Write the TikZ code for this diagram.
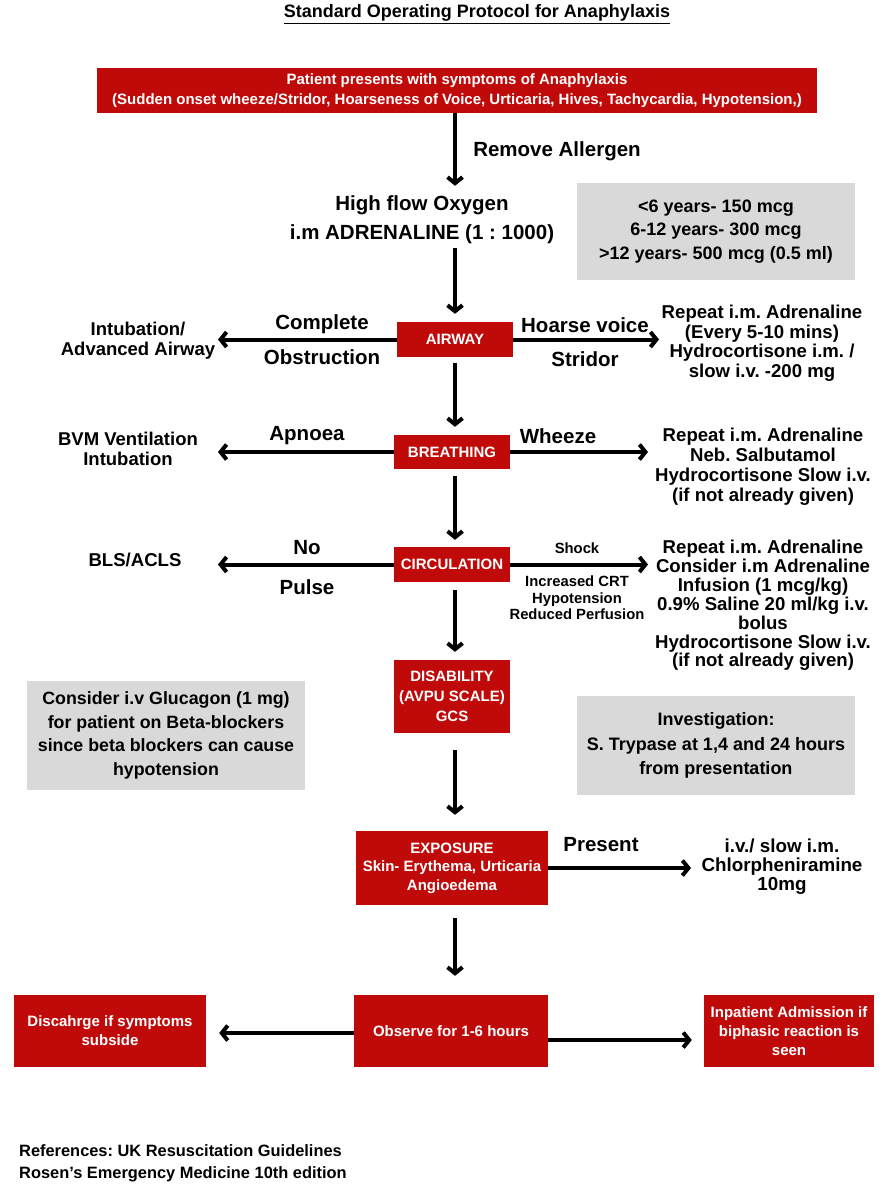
\documentclass[tikz,border=0pt]{standalone}
\usepackage{fontspec}
\setmainfont{Liberation Sans}
\usetikzlibrary{arrows.meta}
\definecolor{boxred}{RGB}{192,10,10}
\definecolor{boxgrey}{RGB}{217,217,217}
\newcommand{\fsz}[2]{\fontsize{#1}{#2}\selectfont\bfseries}
\frenchspacing
\begin{document}
\begin{tikzpicture}[x=1pt,y=-1pt,
  every node/.style={inner sep=0pt, align=center},
  redbox/.style={fill=boxred, text=white},
  greybox/.style={fill=boxgrey, text=black},
  arr/.style={line width=4pt, -{Straight Barb[length=6pt,width=15pt]}},
  big/.style={font=\fsz{20.5}{29}},
  side/.style={font=\fsz{18.6}{19.5}},
  boxlbl/.style={font=\fsz{15}{19.5}},
  small/.style={font=\fsz{14.8}{16.5}},
  note/.style={font=\fsz{18}{23.8}},
]
\fill[white] (0,0) rectangle (890,1200);
\useasboundingbox (0,0) rectangle (890,1200);
\coordinate (axis) at (455,0);
\coordinate (tipL) at (218,0);

% title
\node[font=\fsz{18}{20}] (title) at (477,14) {\underline{Standard Operating Protocol for Anaphylaxis}};

% top box
\node[redbox, boxlbl, minimum width=720pt, minimum height=45pt] (top) at (457,90.5)
  {Patient presents with symptoms of Anaphylaxis\\(Sudden onset wheeze/Stridor, Hoarseness of Voice, Urticaria, Hives, Tachycardia, Hypotension,)};
\node[big] (remove) at (557,151) {Remove Allergen};
\node[big] (oxy) at (422,220) {High flow Oxygen\\i.m ADRENALINE (1 : 1000)};
\node[greybox, font=\fsz{18}{23.5}, minimum width=278pt, minimum height=97pt] (dose) at (716,231.5)
  {<6 years- 150 mcg\\6-12 years- 300 mcg\\>12 years- 500 mcg (0.5 ml)};

% airway
\node[redbox, boxlbl, minimum width=116pt, minimum height=35pt] (air) at (455,339.5) {AIRWAY};
\node[big] (complete) at (322,324) {Complete};
\node[big] (obstr) at (322,357) {Obstruction};
\node[side, font=\fsz{18.5}{20}] (intub) at (138,341) {Intubation/\\Advanced Airway};
\node[big] (hoarse) at (585,325) {Hoarse voice};
\node[big] (stridor) at (585,359) {Stridor};
\node[side] (rep1) at (762,343) {Repeat i.m. Adrenaline\\(Every 5-10 mins)\\Hydrocortisone i.m. /\\slow i.v. -200 mg};
\coordinate (tipA) at (659,0);

% breathing
\node[redbox, boxlbl, minimum width=116pt, minimum height=34pt] (br) at (452,452) {BREATHING};
\node[big] (apnoea) at (307,436) {Apnoea};
\node[side, font=\fsz{18.5}{20}] (bvm) at (128,449) {BVM Ventilation\\Intubation};
\node[big] (wheeze) at (558,436) {Wheeze};
\node[side, font=\fsz{18.6}{20}] (rep2) at (763,467) {Repeat i.m. Adrenaline\\Neb. Salbutamol\\Hydrocortisone Slow i.v.\\(if not already given)};
\coordinate (tipB) at (648,0);

% circulation
\node[redbox, boxlbl, minimum width=116pt, minimum height=35pt] (circ) at (452,564.5) {CIRCULATION};
\node[big] (no) at (307,548) {No};
\node[big] (pulse) at (307,587) {Pulse};
\node[side] (bls) at (135,560) {BLS/ACLS};
\node[small] (shock) at (577,548) {Shock};
\node[small] (crt) at (577,598) {Increased CRT\\Hypotension\\Reduced Perfusion};
\node[side, font=\fsz{18.6}{18.9}] (rep3) at (763,605.5) {Repeat i.m. Adrenaline\\Consider i.m Adrenaline\\Infusion (1 mcg/kg)\\0.9\% Saline 20 ml/kg i.v.\\bolus\\Hydrocortisone Slow i.v.\\(if not already given)};

% disability
\node[redbox, boxlbl, font=\fsz{15}{20}, minimum width=116pt, minimum height=73pt] (dis) at (452,696.5) {DISABILITY\\(AVPU SCALE)\\GCS};
\node[greybox, font=\fsz{17.8}{23.7}, minimum width=278pt, minimum height=109pt] (gluc) at (166,735.5)
  {Consider i.v Glucagon (1 mg)\\for patient on Beta-blockers\\since beta blockers can cause\\hypotension};
\node[greybox, font=\fsz{18}{24.5}, minimum width=278pt, minimum height=99pt] (inv) at (716,745.5)
  {Investigation:\\S. Trypase at 1,4 and 24 hours\\from presentation};

% exposure
\node[redbox, font=\fsz{15}{18.5}, minimum width=192pt, minimum height=74pt] (exp) at (452,868) {EXPOSURE\\Skin- Erythema, Urticaria\\Angioedema};
\node[big] (present) at (601,845) {Present};
\node[side, font=\fsz{18.8}{19}] (chlor) at (782,867) {i.v./ slow i.m.\\Chlorpheniramine\\10mg};
\coordinate (tipE) at (691,0);

% bottom row
\node[redbox, font=\fsz{15}{19}, minimum width=192pt, minimum height=72pt] (disc) at (110,1031) {Discahrge if symptoms\\subside};
\node[redbox, font=\fsz{15}{19}, minimum width=194pt, minimum height=72pt] (obs) at (451,1031) {Observe for 1-6 hours};
\node[redbox, font=\fsz{15}{19}, minimum width=170pt, minimum height=72pt] (inp) at (789,1031) {Inpatient Admission if\\biphasic reaction is\\seen};

% references
\node[font=\fsz{16.4}{22}, align=left, anchor=west] (refs) at (19,1163) {References: UK Resuscitation Guidelines\\Rosen’s Emergency Medicine 10th edition};

% vertical arrows
\draw[arr, shorten >=10pt] (top.south -| axis) -- (axis |- oxy.north);
\draw[arr, shorten <=4pt, shorten >=8pt] (axis |- oxy.south) -- (air.north -| axis);
\draw[arr, shorten <=6pt, shorten >=8pt] (air.south -| axis) -- (br.north -| axis);
\draw[arr, shorten <=7pt, shorten >=7pt] (br.south -| axis) -- (circ.north -| axis);
\draw[arr, shorten <=8pt, shorten >=8pt] (circ.south -| axis) -- (dis.north -| axis);
\draw[arr, shorten <=17pt, shorten >=16pt] (dis.south -| axis) -- (exp.north -| axis);
\draw[arr, shorten <=13pt, shorten >=19pt] (exp.south -| axis) -- (obs.north -| axis);

% horizontal arrows
\draw[arr] (air.west) -- (air.west -| tipL);
\draw[arr] (air.east) -- (air.east -| tipA);
\draw[arr] (br.west) -- (br.west -| tipL);
\draw[arr] (br.east) -- (br.east -| tipB);
\draw[arr] (circ.west) -- (circ.west -| tipL);
\draw[arr] (circ.east) -- (circ.east -| tipB);
\draw[arr] (exp.east) -- (exp.east -| tipE);
\draw[arr, shorten >=13pt] ([yshift=-2pt]obs.west) -- ([yshift=-2pt]obs.west -| disc.east);
\draw[arr, shorten >=12pt] ([yshift=-9pt]obs.east) -- ([yshift=-9pt]obs.east -| inp.west);
\end{tikzpicture}
\end{document}
